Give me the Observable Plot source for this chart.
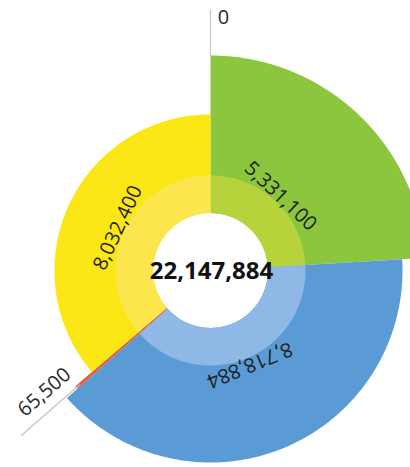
<!DOCTYPE html>
<html>
<head>
<meta charset="utf-8">
<script src="https://cdn.jsdelivr.net/npm/d3@7"></script>
<script src="https://cdn.jsdelivr.net/npm/@observablehq/plot@0.6"></script>
<style>
  html, body { margin: 0; padding: 0; background: #fff; }
  #chart svg { display: block; }
</style>
</head>
<body>
<div id="chart"></div>
<script>
// ---- data ----
const categories = ["Zero", "Green", "Blue", "Red", "Yellow"];
const values = [0, 5331100, 8718884, 65500, 8032400];
const depth = [100, 100, 89.3, 82.8, 72.6];   // radial measure (relative)
const colors = ["#999999", "#8cc63f", "#5b9bd5", "#e0603c", "#fbe616"];
const lightColors = ["#bbbbbb", "#b6d33c", "#8fb8e6", "#e98a6a", "#fbe64e"];

// ---- layout ----
const W = 410, H = 467, PX = 2.15;           // pixels per radial unit
const CX = 210, CY = 270;                     // pixel centre
const HOLE = 26.7, RING = 44.2, LABEL_R = 47.5;

const total = d3.sum(values);
let acc = 0;
const segs = values.map((v, i) => {
  const a0 = acc / total * 360; acc += v; const a1 = acc / total * 360;
  return {i, cat: categories[i], v, a0, a1, mid: (a0 + a1) / 2, r: depth[i]};
});

const rad = a => a * Math.PI / 180;
const pol = (a, r) => ({x: r * Math.sin(rad(a)), y: r * Math.cos(rad(a))});

function sector(id, a0, a1, r0, r1, color) {
  const n = Math.max(2, Math.ceil((a1 - a0) / 0.5) + 1);
  const pts = [];
  for (let k = 0; k < n; k++) { const a = a0 + (a1 - a0) * k / (n - 1); pts.push({...pol(a, r1), id, color}); }
  for (let k = n - 1; k >= 0; k--) { const a = a0 + (a1 - a0) * k / (n - 1); pts.push({...pol(a, r0), id, color}); }
  return pts;
}

const big = segs.filter(s => s.v > 0);
const outerPts = big.flatMap(s => sector("o" + s.i, s.a0, s.a1, HOLE, s.r, colors[s.i]));
const ringPts = big.filter(s => s.v / total > 0.01)
  .flatMap(s => sector("r" + s.i, s.a0, s.a1, HOLE, RING, lightColors[s.i]));

const inside = segs.filter(s => s.v / total > 0.01).map(s => ({...pol(s.mid, LABEL_R), text: d3.format(",")(s.v), rot: s.mid}));

// small slices: leader line + outside label
const small = segs.filter(s => s.v / total <= 0.01);
const leaderSpec = {0: {from: 100, to: 121}, 3: {from: 81, to: 116.6}};
const leaders = small.flatMap(s => {
  const sp = leaderSpec[s.i];
  return [{...pol(s.mid, sp.from), id: s.i}, {...pol(s.mid, sp.to), id: s.i}];
});
const labelSpec = {0: {da: 0, r: 117.7, rot: 0, dx: 13}, 3: {da: 4.85, r: 95.8, rot: null, dx: 0}};
const outside = small.map(s => {
  const sp = labelSpec[s.i];
  return {...pol(s.mid + sp.da, sp.r), text: d3.format(",")(s.v), rot: sp.rot === null ? s.mid - 270 : sp.rot, dx: sp.dx};
});

const chart = Plot.plot({
  width: W, height: H,
  marginTop: 0, marginRight: 0, marginBottom: 0, marginLeft: 0,
  x: {domain: [-CX / PX, (W - CX) / PX], axis: null},
  y: {domain: [-(H - CY) / PX, CY / PX], axis: null},
  color: {type: "identity"},
  style: {background: "#fff", overflow: "visible"},
  marks: [
    Plot.line(outerPts, {x: "x", y: "y", z: "id", fill: "color", stroke: "none", curve: "linear-closed"}),
    Plot.line(ringPts, {x: "x", y: "y", z: "id", fill: "color", stroke: "none", curve: "linear-closed"}),
    Plot.line(leaders, {x: "x", y: "y", z: "id", stroke: "#c4c4c4", strokeWidth: 1.2}),
    Plot.text(inside, {x: "x", y: "y", text: "text", rotate: "rot", fontSize: 20, fontFamily: "Open Sans, sans-serif", fill: "#1e1e1e"}),
    Plot.text(outside.filter(d => d.dx === 0), {x: "x", y: "y", text: "text", rotate: "rot", fontSize: 20, fontFamily: "Open Sans, sans-serif", fill: "#2a2a2a"}),
    Plot.text(outside.filter(d => d.dx !== 0), {x: "x", y: "y", text: "text", dx: 13, fontSize: 20, fontFamily: "Open Sans, sans-serif", fill: "#2a2a2a"}),
    Plot.text([{x: 0, y: 0, text: d3.format(",")(total)}], {x: "x", y: "y", text: "text", fontSize: 24, fontWeight: "bold", fontFamily: "Open Sans, sans-serif", fill: "#111", dx: 1, dy: 1})
  ]
});
document.getElementById("chart").appendChild(chart);
</script>
</body>
</html>
